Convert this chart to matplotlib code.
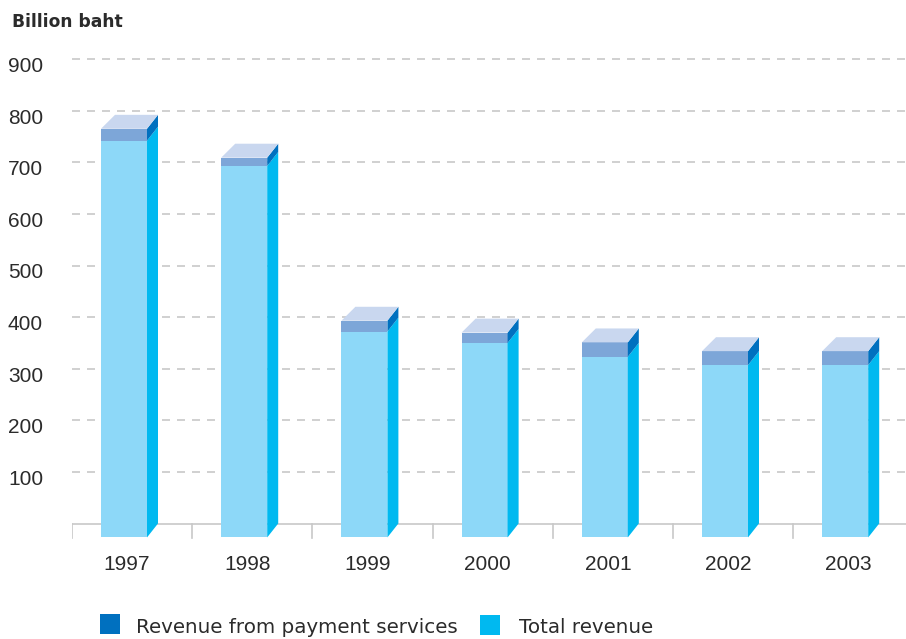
import matplotlib
matplotlib.use('Agg')
import matplotlib.pyplot as plt
from matplotlib.patches import Rectangle, Polygon

years = ['1997', '1998', '1999', '2000', '2001', '2002', '2003']
total_revenue = [769, 720, 399, 377, 350, 334, 334]
payment_services = [23, 16, 21, 20, 28, 27, 27]
yticks = [100, 200, 300, 400, 500, 600, 700, 800, 900]

# colours of the pseudo-3D columns
c_front_low = '#8DD8F8'
c_front_up = '#7DA6D8'
c_side_low = '#00B9F0'
c_side_up = '#0070BF'
c_top = '#C9D7EF'
c_grid = '#C8C8C8'
c_text = '#2B2B2B'

num_font = ['Liberation Sans Narrow', 'Liberation Sans', 'DejaVu Sans']

W, H = 906, 639
fig = plt.figure(figsize=(W / 100, H / 100), dpi=100)

# axes placed in pixels: x unit = one category (120.2 px), y scale 0.516 px per unit
px_per_cat = 120.2
px_per_val = 0.516
zero_px = 523.5
ylo, yhi = -40, 910
ax_bottom = zero_px + (-ylo) * px_per_val
ax_top = zero_px - yhi * px_per_val
ax = fig.add_axes([72 / W, (H - ax_bottom) / H, (W - 72) / W, (ax_bottom - ax_top) / H])
ax.set_xlim(0, (W - 72) / px_per_cat)
ax.set_ylim(ylo, yhi)
ax.axis('off')

# dashed gridlines and base line
for v in yticks:
    ax.plot([0, 7], [v, v], color=c_grid, lw=1.2, linestyle=(0, (4.8, 4.2)), zorder=1)
ax.plot([0, 7], [0, 0], color=c_grid, lw=1.2, zorder=1)
for i in range(len(years) + 1):
    ax.plot([i, i], [0, -28], color=c_grid, lw=1.2, zorder=1)

# y labels
for v in yticks:
    ax.text(-0.241, v - 25, str(v), ha='right', va='baseline', fontsize=15,
            family=num_font, color=c_text, clip_on=False)

# columns
front_off = 29 / px_per_cat
front_w = 46 / px_per_cat
dxr = 11 / px_per_cat
dxl = 14 / px_per_cat
depth = 27

for i, (tot, pay) in enumerate(zip(total_revenue, payment_services)):
    x0 = i + front_off
    x1 = x0 + front_w
    top = tot + pay
    ax.add_patch(Rectangle((x0, -depth), front_w, tot, facecolor=c_front_low,
                           edgecolor='none', zorder=3))
    ax.add_patch(Rectangle((x0, tot - depth), front_w, pay, facecolor=c_front_up,
                           edgecolor='none', zorder=3))
    ax.add_patch(Polygon([(x1, -depth), (x1, tot - depth), (x1 + dxr, tot), (x1 + dxr, 0)],
                         closed=True, facecolor=c_side_low, edgecolor='none', zorder=3))
    ax.add_patch(Polygon([(x1, tot - depth), (x1, top - depth), (x1 + dxr, top), (x1 + dxr, tot)],
                         closed=True, facecolor=c_side_up, edgecolor='none', zorder=3))
    ax.add_patch(Polygon([(x0, top - depth), (x1, top - depth), (x1 + dxr, top), (x0 + dxl, top)],
                         closed=True, facecolor=c_top, edgecolor='none', zorder=3))
    ax.text(i + 0.458, -90, years[i], ha='center', va='baseline', fontsize=15,
            family=num_font, color=c_text, clip_on=False)

fig.text(12 / W, 1 - 27.3 / H, 'Billion baht', ha='left', va='baseline',
         fontsize=12.3, fontweight='bold', color=c_text)

# legend
fig.add_artist(Rectangle((100 / W, 1 - 634 / H), 20 / W, 20 / H, transform=fig.transFigure,
                         facecolor=c_side_up, edgecolor='none'))
fig.text(135.7 / W, 1 - 633.3 / H, 'Revenue from payment services', ha='left', va='baseline',
         fontsize=14.3, color=c_text)
fig.add_artist(Rectangle((480 / W, 1 - 635 / H), 20 / W, 20 / H, transform=fig.transFigure,
                         facecolor=c_side_low, edgecolor='none'))
fig.text(519.3 / W, 1 - 633.3 / H, 'Total revenue', ha='left', va='baseline',
         fontsize=14.3, color=c_text)

fig.savefig('out.png', dpi=100)
